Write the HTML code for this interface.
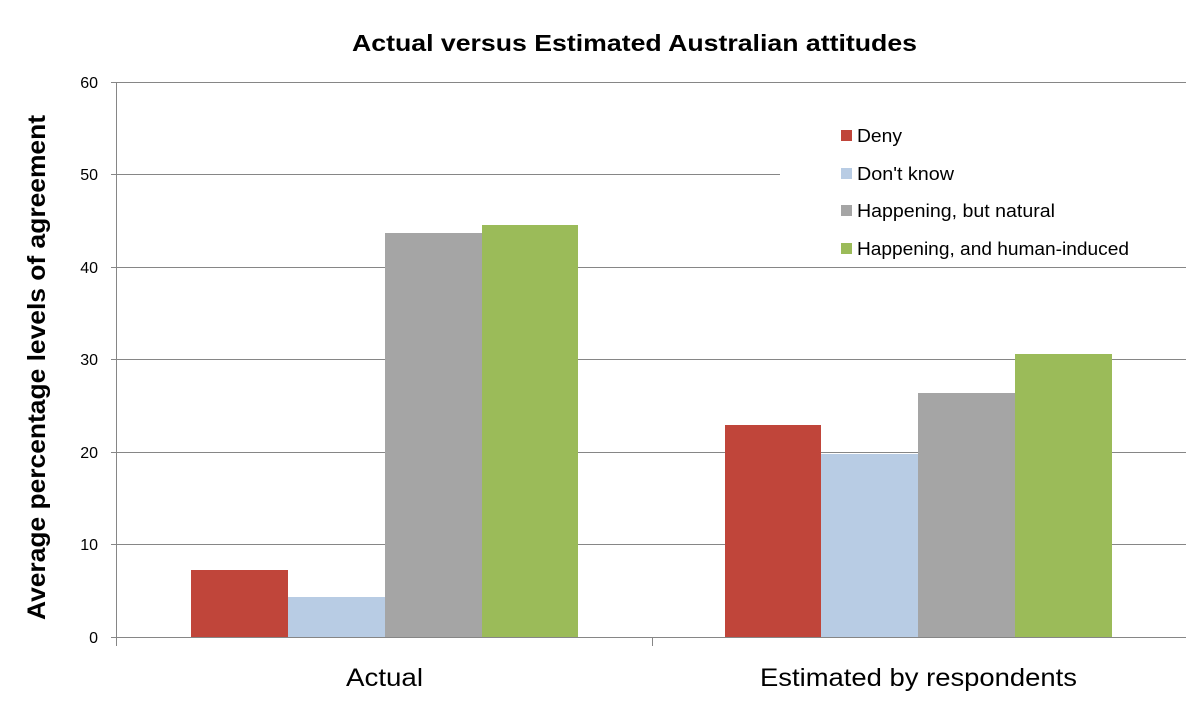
<!DOCTYPE html>
<html><head><meta charset="utf-8"><style>body{margin:0;background:#fff}svg{display:block}text{font-family:"Liberation Sans",sans-serif}</style></head>
<body>
<svg width="1186" height="721" xmlns="http://www.w3.org/2000/svg">
<rect width="1186" height="721" fill="#fff"/>
<text x="352" y="51" font-size="23" font-weight="bold" fill="#000" textLength="565" lengthAdjust="spacingAndGlyphs">Actual  versus Estimated Australian attitudes</text>
<g stroke="#868686" stroke-width="1">
<line x1="111" y1="82.5" x2="1186" y2="82.5"/>
<line x1="111" y1="174.5" x2="780" y2="174.5"/>
<line x1="111" y1="267.5" x2="1186" y2="267.5"/>
<line x1="111" y1="359.5" x2="1186" y2="359.5"/>
<line x1="111" y1="452.5" x2="1186" y2="452.5"/>
<line x1="111" y1="544.5" x2="1186" y2="544.5"/>
<line x1="111" y1="637.5" x2="1186" y2="637.5"/>
<line x1="116.5" y1="82" x2="116.5" y2="646"/>
<line x1="652.5" y1="637" x2="652.5" y2="646"/>
</g>
<g font-size="16" fill="#000" text-anchor="end">
<text x="98" y="88">60</text><text x="98" y="180">50</text><text x="98" y="273">40</text>
<text x="98" y="365">30</text><text x="98" y="458">20</text><text x="98" y="550">10</text><text x="98" y="643">0</text>
</g>
<text transform="translate(45,620) rotate(-90)" font-size="25" font-weight="bold" textLength="505" lengthAdjust="spacingAndGlyphs">Average percentage levels of agreement</text>
<g>
<rect x="191" y="570" width="97" height="67" fill="#c0453a"/>
<rect x="288" y="597" width="97" height="40" fill="#b8cce4"/>
<rect x="385" y="233" width="97" height="404" fill="#a5a5a5"/>
<rect x="482" y="225" width="96" height="412" fill="#9bbb59"/>
<rect x="725" y="425" width="96" height="212" fill="#c0453a"/>
<rect x="821" y="454" width="97" height="183" fill="#b8cce4"/>
<rect x="918" y="393" width="97" height="244" fill="#a5a5a5"/>
<rect x="1015" y="354" width="97" height="283" fill="#9bbb59"/>
</g>
<g font-size="25" fill="#000">
<text x="346" y="686" textLength="77" lengthAdjust="spacingAndGlyphs">Actual</text>
<text x="760" y="686" textLength="317" lengthAdjust="spacingAndGlyphs">Estimated by respondents</text>
</g>
<g font-size="18" fill="#000">
<rect x="841" y="130" width="11" height="11" fill="#c0453a"/><text x="857" y="142" textLength="45" lengthAdjust="spacingAndGlyphs">Deny</text>
<rect x="841" y="168" width="11" height="11" fill="#b8cce4"/><text x="857" y="180" textLength="97" lengthAdjust="spacingAndGlyphs">Don't know</text>
<rect x="841" y="205" width="11" height="11" fill="#a5a5a5"/><text x="857" y="217" textLength="198" lengthAdjust="spacingAndGlyphs">Happening, but natural</text>
<rect x="841" y="243" width="11" height="11" fill="#9bbb59"/><text x="857" y="255" textLength="272" lengthAdjust="spacingAndGlyphs">Happening, and human-induced</text>
</g>
</svg>
</body></html>
